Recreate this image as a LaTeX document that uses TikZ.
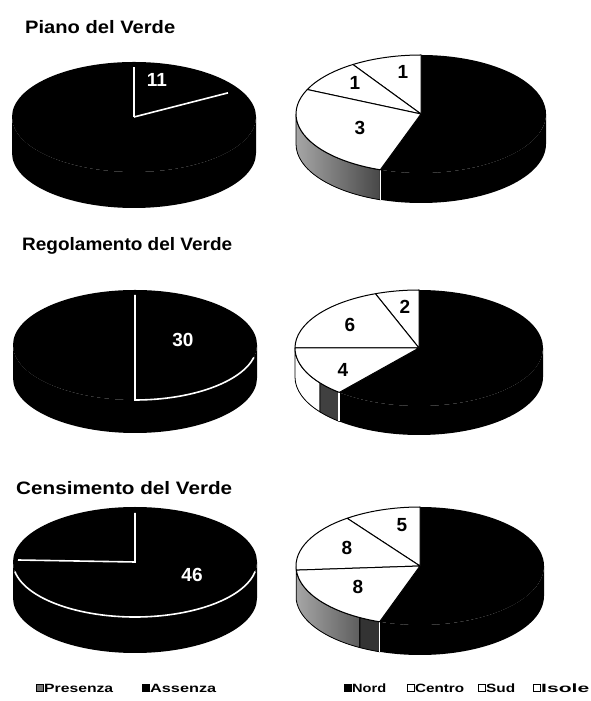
\documentclass[tikz,border=0pt]{standalone}
\usepackage{fontspec}
\setmainfont{Liberation Sans}
\usepackage{graphicx}
\newcommand\pieside[4]{%
  \fill[black] (#1) ++(180:#2 and #3) -- ++(0,-#4) arc[start angle=180,end angle=360,x radius=#2,y radius=#3] -- ++(0,#4) arc[start angle=0,end angle=-180,x radius=#2,y radius=#3] -- cycle;}
\newcommand\sidepart[7]{%
  \path[#7] (#1) ++(#5:#2 and #3) -- ++(0,-#4) arc[start angle=#5,end angle=#6,x radius=#2,y radius=#3] -- ++(0,#4) arc[start angle=#6,end angle=#5,x radius=#2,y radius=#3] -- cycle;}
\newcommand\pslice[6]{%
  \path[#6] (#1) -- ++(#4:#2 and #3) arc[start angle=#4,end angle=#5,x radius=#2,y radius=#3] -- cycle;}
\begin{document}
\begin{tikzpicture}[x=1pt,y=1pt,
  ttl/.style={anchor=west,inner sep=0pt,font=\bfseries\fontsize{18}{20}\selectfont},
  lbl/.style={font=\bfseries\fontsize{19}{21}\selectfont,inner sep=0pt},
  wl/.style={white,line width=1.6pt},
  sl/.style={fill=white,draw=black,line width=1pt,line join=round},
  dk/.style={left color=black!35,right color=black!90,draw=black,line width=0.8pt},
  lg/.style={anchor=west,inner sep=0pt,font=\bfseries\fontsize{12}{14}\selectfont},
  sq/.style={minimum size=7pt,inner sep=0pt,draw=black,line width=0.6pt}]
\useasboundingbox (0,0) rectangle (591,701);
\fill[white] (0,0) rectangle (591,701);

% titles
\node[ttl] (t1) at (25,674) {\resizebox{150pt}{\height}{Piano del Verde}};
\node[ttl] (t2) at (22,455) {\resizebox{210pt}{\height}{Regolamento del Verde}};
\node[ttl] (t3) at (16,213) {\resizebox{216pt}{\height}{Censimento del Verde}};

% ---------- pie 1 (Piano, presenza/assenza)
\coordinate (p1) at (134,584);
\pieside{p1}{122}{55}{36}
\fill[black] (p1) ellipse[x radius=122,y radius=55];
\draw[wl] (p1) -- ++(90:112 and 50);
\draw[wl] (p1) -- ++(29.5:108 and 49);
\node[lbl,white] (n11) at (157,621) {11};

% ---------- pie 2 (Piano, regioni)
\coordinate (p2) at (421,587);
\pieside{p2}{125}{59}{30}
\sidepart{p2}{125}{59}{30}{180}{251}{dk}
\draw[wl] (p2) ++(251:125 and 59) -- ++(0,-30);
\pslice{p2}{125}{59}{-109}{90}{fill=black}
\pslice{p2}{125}{59}{90}{123}{sl}
\pslice{p2}{125}{59}{123}{155.5}{sl}
\pslice{p2}{125}{59}{155.5}{251}{sl}
\node[lbl] (n2a) at (403,629) {1};
\node[lbl] (n2b) at (355,618) {1};
\node[lbl] (n2c) at (360,573) {3};

% ---------- pie 3 (Regolamento, presenza/assenza)
\coordinate (p3) at (135,356);
\pieside{p3}{122}{55}{33}
\fill[black] (p3) ellipse[x radius=122,y radius=55];
\draw[wl] (135,406) -- (135,301) arc[start angle=270,end angle=347,x radius=122,y radius=55];
\node[lbl,white] (n30) at (183,361) {30};

% ---------- pie 4 (Regolamento, regioni)
\coordinate (p4) at (419,353);
\pieside{p4}{124}{58}{29}
\sidepart{p4}{124}{58}{29}{180}{217}{fill=white,draw=black,line width=0.8pt}
\sidepart{p4}{124}{58}{29}{217}{230}{fill=black!75,draw=black,line width=0.8pt}
\draw[wl] (p4) ++(230:124 and 58) -- ++(0,-29);
\pslice{p4}{124}{58}{-130}{90}{fill=black}
\pslice{p4}{124}{58}{90}{110.6}{sl}
\pslice{p4}{124}{58}{110.6}{180}{sl}
\pslice{p4}{124}{58}{180}{230}{sl}
\node[lbl] (n4a) at (405,394) {2};
\node[lbl] (n4b) at (350,376) {6};
\node[lbl] (n4c) at (343,331) {4};

% ---------- pie 5 (Censimento, presenza/assenza)
\coordinate (p5) at (135,139);
\pieside{p5}{122}{55}{36}
\fill[black] (p5) ellipse[x radius=122,y radius=55];
\draw[wl] (135,188) -- (p5) -- (18,141);
\draw[wl] (p5) ++(190:122 and 55) arc[start angle=190,end angle=350,x radius=122,y radius=55];
\node[lbl,white] (n46) at (192,126) {46};

% ---------- pie 6 (Censimento, regioni)
\coordinate (p6) at (420,135);
\pieside{p6}{124}{59}{30}
\sidepart{p6}{124}{59}{30}{184}{241}{dk}
\sidepart{p6}{124}{59}{30}{241}{251}{fill=black!80,draw=black,line width=0.8pt}
\draw[wl] (p6) ++(251:124 and 59) -- ++(0,-30);
\pslice{p6}{124}{59}{-109}{90}{fill=black}
\pslice{p6}{124}{59}{90}{126}{sl}
\pslice{p6}{124}{59}{126}{184}{sl}
\pslice{p6}{124}{59}{184}{251}{sl}
\node[lbl] (n6a) at (402,176) {5};
\node[lbl] (n6b) at (347,153) {8};
\node[lbl] (n6c) at (358,114) {8};

% ---------- legends
\node[sq,fill=black!55] (sq1) at (40,13) {};
\node[lg] (lg1) at (44,13) {\resizebox{69pt}{\height}{Presenza}};
\node[sq,fill=black] (sq2) at (146,13) {};
\node[lg] (lg2) at (150,13) {\resizebox{66pt}{\height}{Assenza}};
\node[sq,fill=black] (sq3) at (348,13) {};
\node[lg] (lg3) at (352,13) {\resizebox{34pt}{\height}{Nord}};
\node[sq,fill=white] (sq4) at (411,13) {};
\node[lg] (lg4) at (415,13) {\resizebox{49pt}{\height}{Centro}};
\node[sq,fill=white] (sq5) at (482,13) {};
\node[lg] (lg5) at (486,13) {\resizebox{29pt}{\height}{Sud}};
\node[sq,fill=white] (sq6) at (537,13) {};
\node[lg] (lg6) at (541,13) {\resizebox{48pt}{\height}{Isole}};
\end{tikzpicture}
\end{document}
